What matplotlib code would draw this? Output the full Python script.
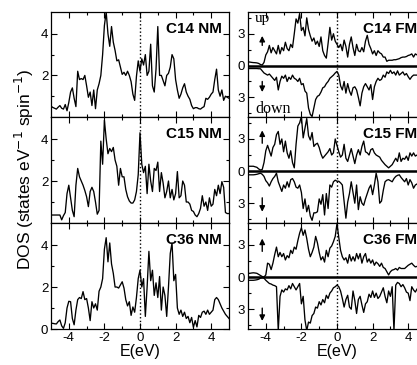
import numpy as np
import matplotlib.pyplot as plt
from matplotlib.ticker import FuncFormatter

plt.rcParams['font.family'] = ['Liberation Sans', 'DejaVu Sans']
plt.rcParams['axes.unicode_minus'] = False

# energy grid (eV), 0.1 eV step
energy = np.linspace(-5.0, 5.0, 101)

# non-magnetic DOS
c14_nm = [0.52, 0.46, 0.42, 0.38, 0.47, 0.55, 0.42, 0.38, 0.6, 0.3,
          0.7, 1.2, 1.4, 0.9, 0.5, 2.2, 1.8, 1.85, 1.8, 2.0,
          1.5, 0.95, 1.2, 0.55, 1.3, 0.4, 1.3, 1.6, 2.0, 3.0,
          4.4, 5.05, 4.0, 3.4, 4.35, 3.6, 3.2, 2.7, 2.75, 2.4,
          2.05, 2.15, 2.0, 2.2, 2.0, 1.7, 1.1, 0.8, 1.95, 2.7,
          2.2, 2.8, 2.5, 3.0, 2.0, 2.2, 3.5, 1.5, 1.2, 2.3,
          4.35, 2.0, 2.0, 1.75, 1.5, 2.0, 2.1, 2.4, 3.0, 2.8,
          1.8, 1.3, 0.9, 1.1, 1.4, 1.6, 1.2, 1.0, 0.85, 0.55,
          0.4, 0.45, 0.45, 0.4, 0.38, 0.45, 0.5, 0.9, 0.85, 0.95,
          1.1, 1.2, 1.8, 2.3, 1.3, 1.0, 1.3, 0.8, 1.0, 0.95, 0.9]
c15_nm = [0.38, 0.38, 0.38, 0.38, 0.38, 0.38, 0.15, 0.35, 0.5, 1.4,
          1.8, 1.2, 0.6, 0.3, 1.8, 2.6, 2.2, 2.0, 1.8, 1.55,
          1.25, 0.78, 1.5, 1.7, 1.5, 1.0, 0.42, 0.6, 3.9, 2.8,
          4.9, 4.0, 3.3, 3.55, 3.4, 3.6, 3.0, 2.7, 1.8, 2.6,
          2.2, 2.2, 1.6, 1.25, 1.05, 0.95, 0.95, 1.1, 1.5, 2.3,
          4.3, 2.8, 2.4, 2.7, 1.4, 2.8, 2.0, 1.5, 2.6, 2.5,
          2.9, 1.5, 2.4, 1.9, 1.2, 1.5, 2.0, 1.2, 1.6, 1.1,
          1.4, 2.45, 1.2, 1.3, 2.0, 1.8, 1.0, 1.0, 0.9, 0.6,
          0.55, 0.38, 0.3, 0.45, 0.7, 1.3, 0.8, 1.0, 0.6, 1.2,
          0.8, 0.9, 1.6, 1.3, 1.8, 1.4, 1.97, 1.7, 0.5, 0.45, 0.45]
c36_nm = [0.27, 0.27, 0.25, 0.24, 0.35, 0.43, 0.15, 0.03, 0.3, 1.0,
          1.32, 1.3, 0.5, 0.2, 0.9, 1.4, 1.5, 1.45, 1.78, 1.4,
          1.45, 1.0, 0.4, 1.3, 1.0, 1.2, 0.9, 1.8, 2.0, 2.4,
          3.8, 4.35, 3.2, 4.1, 3.1, 2.65, 2.0, 2.0, 1.95, 2.1,
          2.25, 1.95, 1.4, 1.1, 1.3, 0.65, 1.05, 0.8, 1.5, 2.4,
          2.8, 2.0, 2.4, 0.6, 2.0, 3.7, 2.3, 2.8, 1.6, 2.2,
          1.5, 2.5, 0.9, 2.0, 1.6, 0.6, 2.0, 3.6, 4.1, 2.3,
          2.6, 1.0, 0.7, 0.9, 0.6, 0.8, 0.5, 0.6, 0.3, 0.55,
          0.08, 0.4, 0.1, 0.65, 0.55, 0.8, 0.85, 0.7, 0.9, 0.7,
          0.8, 0.9, 1.4, 1.5, 1.4, 1.2, 1.0, 0.85, 0.7, 0.6, 0.5]

# ferromagnetic DOS, spin up / spin down (magnitudes)
c14_up = [0.35, 0.33, 0.3, 0.28, 0.27, 0.25, 0.2, 0.1, 0.05, 0.3,
          1.0, 1.3, 1.9, 1.2, 1.7, 1.4, 1.1, 1.9, 1.1, 1.7,
          1.4, 2.2, 1.6, 1.4, 2.0, 1.7, 3.0, 4.4, 4.0, 4.9,
          3.3, 3.6, 2.8, 4.5, 3.4, 2.8, 2.3, 2.6, 2.0, 2.3,
          1.8, 2.7, 1.4, 0.95, 0.7, 2.1, 3.6, 2.4, 3.0, 2.3,
          2.0, 1.7, 2.0, 1.4, 2.4, 1.8, 0.8, 2.0, 2.7, 1.7,
          0.95, 2.0, 1.4, 1.3, 1.7, 1.3, 2.3, 2.85, 2.0, 1.6,
          1.1, 1.4, 0.95, 1.4, 1.2, 1.1, 0.8, 0.8, 0.4, 0.5,
          0.5, 0.5, 0.55, 0.55, 0.6, 0.65, 0.75, 0.8, 0.8, 0.85,
          0.95, 1.0, 1.1, 0.8, 1.1, 1.0, 1.1, 0.9, 1.0, 1.1, 1.0]
c14_down = [0.28, 0.28, 0.28, 0.28, 0.28, 0.28, 0.3, 0.3, 0.5, 0.7,
            0.8, 0.9, 0.8, 1.0, 1.2, 1.4, 1.1, 2.3, 1.5, 1.0,
            1.2, 0.9, 1.5, 1.1, 1.3, 0.9, 1.2, 1.3, 1.5, 1.2,
            1.8, 1.7, 2.4, 2.6, 4.0, 4.6, 4.8, 4.0, 3.2, 2.9,
            2.8, 2.5, 2.1, 2.0, 1.7, 1.5, 1.2, 1.05, 0.9, 0.7,
            0.55, 0.9, 1.9, 2.3, 1.5, 2.6, 1.7, 2.4, 2.8, 2.1,
            2.0, 2.3, 3.0, 3.8, 2.6, 2.0, 1.7, 2.0, 2.3, 1.8,
            3.2, 2.0, 1.5, 1.2, 1.4, 1.3, 0.9, 1.1, 0.6, 0.75,
            0.45, 0.75, 0.6, 0.9, 0.5, 0.9, 0.75, 0.6, 0.9, 0.75,
            1.05, 1.3, 1.05, 0.9, 0.9, 0.9, 1.0, 0.8, 0.9, 1.0, 0.9]
c15_up = [0.45, 0.45, 0.45, 0.45, 0.4, 0.35, 0.2, 0.1, 0.15, 0.8,
          1.9, 2.4, 1.9, 1.4, 2.2, 2.5, 3.4, 3.7, 2.5, 3.0,
          1.8, 2.8, 1.7, 1.2, 1.9, 0.8, 0.3, 2.5, 4.2, 4.5,
          5.1, 3.1, 4.0, 4.9, 3.3, 2.9, 3.6, 2.3, 2.5, 2.6,
          2.2, 1.6, 1.2, 1.4, 1.6, 1.8, 2.1, 1.5, 1.7, 3.0,
          2.4, 1.8, 1.3, 1.5, 2.5, 1.2, 0.9, 1.5, 2.1, 1.4,
          0.7, 1.5, 2.0, 1.5, 2.3, 2.8, 1.8, 1.7, 1.5, 2.0,
          2.1, 1.7, 1.5, 1.4, 1.3, 1.0, 0.8, 0.6, 0.45, 0.3,
          0.45, 0.6, 0.9, 1.2, 0.9, 1.7, 0.9, 1.2, 1.1, 1.4,
          1.0, 1.7, 1.4, 1.7, 1.4, 1.5, 1.3, 1.6, 1.4, 1.5, 1.4]
c15_down = [0.35, 0.35, 0.35, 0.35, 0.33, 0.3, 0.25, 0.2, 0.3, 0.5,
            0.9, 1.1, 1.4, 1.0, 0.7, 0.5, 0.2, 1.0, 1.45, 1.9,
            1.3, 1.6, 1.0, 1.5, 0.8, 0.7, 1.0, 1.5, 1.6, 1.3,
            2.0, 3.5, 2.6, 3.8, 3.2, 4.2, 4.6, 3.9, 3.9, 3.8,
            2.6, 3.1, 2.2, 4.1, 2.1, 3.5, 1.3, 1.5, 1.0, 0.85,
            0.95, 0.95, 1.1, 1.3, 2.85, 4.4, 2.9, 2.1, 1.0, 2.0,
            3.0, 1.3, 3.6, 2.4, 3.0, 3.2, 2.6, 2.1, 1.6, 1.3,
            2.2, 1.3, 0.2, 1.0, 3.0, 2.8, 1.8, 1.0, 0.85, 0.8,
            0.9, 1.0, 0.7, 0.5, 0.4, 0.35, 0.6, 0.8, 1.0, 0.7,
            1.3, 0.8, 1.1, 1.6, 1.3, 1.2, 1.1, 1.3, 1.2, 1.1, 1.2]
c36_up = [0.35, 0.35, 0.38, 0.4, 0.38, 0.35, 0.25, 0.15, 0.05, 0.0,
          0.2, 1.3, 1.2, 0.7, 1.3, 2.1, 2.8, 1.9, 2.3, 1.9,
          2.2, 1.6, 2.0, 1.8, 2.5, 2.2, 2.8, 2.6, 3.4, 4.1,
          4.6, 3.9, 4.4, 3.6, 2.6, 1.9, 2.3, 2.8, 3.8, 3.2,
          2.3, 1.6, 1.9, 1.4, 2.5, 1.9, 2.7, 2.9, 3.3, 3.8,
          5.0, 3.7, 2.5, 1.9, 1.6, 1.8, 1.3, 2.1, 1.5, 1.9,
          1.5, 2.2, 1.7, 2.2, 1.3, 1.9, 2.2, 1.4, 1.7, 1.3,
          1.6, 1.1, 1.4, 1.25, 1.0, 1.3, 0.9, 0.8, 0.5, 0.2,
          0.5, 0.65, 0.7, 0.8, 0.65, 0.9, 0.8, 0.8, 0.8, 0.95,
          1.1, 1.2, 1.3, 1.1, 0.95, 1.0, 1.1, 1.0, 1.1, 1.0, 1.0]
c36_down = [0.3, 0.3, 0.3, 0.3, 0.28, 0.25, 0.2, 0.1, 0.05, 0.1,
            0.3, 0.45, 0.6, 0.65, 0.75, 0.8, 0.9, 5.0, 1.8, 1.2,
            1.4, 1.1, 1.2, 0.8, 1.1, 0.6, 0.9, 1.2, 0.9, 0.6,
            2.5, 1.8, 4.0, 5.0, 4.2, 4.3, 3.6, 3.4, 2.8, 2.9,
            2.3, 2.6, 2.1, 2.4, 1.7, 2.0, 1.5, 1.3, 1.0, 0.9,
            0.75, 0.9, 1.3, 2.0, 2.8, 2.1, 1.7, 2.8, 3.0, 1.3,
            2.2, 3.4, 2.1, 1.8, 2.6, 3.3, 2.5, 2.3, 1.6, 1.9,
            1.3, 1.9, 1.5, 2.0, 1.8, 1.4, 1.0, 1.8, 2.4, 1.3,
            1.8, 0.9, 5.0, 0.75, 0.5, 0.6, 0.9, 0.7, 1.0, 1.4,
            1.5, 2.2, 0.9, 1.2, 1.4, 1.1, 1.3, 1.2, 1.0, 1.2, 1.1]

nm_labels = ['C14 NM', 'C15 NM', 'C36 NM']
fm_labels = ['C14 FM', 'C15 FM', 'C36 FM']
nm_dos = [c14_nm, c15_nm, c36_nm]
fm_up = [c14_up, c15_up, c36_up]
fm_down = [c14_down, c15_down, c36_down]

W, H = 417, 365
fig = plt.figure(figsize=(W / 100, H / 100), dpi=100)


def px_axes(x0, y0, w, h):
    return fig.add_axes([x0 / W, 1 - (y0 + h) / H, w / W, h / H])


def style(ax, bottom):
    ax.set_xlim(-5, 5)
    ax.set_xticks([-4, -2, 0, 2, 4])
    ax.set_xticks([-3, -1, 1, 3], minor=True)
    ax.tick_params(which='both', direction='in', top=True, right=True,
                   width=0.8, labelsize=9.5, pad=2)
    ax.tick_params(which='major', length=4)
    ax.tick_params(which='minor', length=2.5)
    for s in ax.spines.values():
        s.set_linewidth(0.9)
    if not bottom:
        ax.tick_params(labelbottom=False)
    else:
        ax.set_xlabel('E(eV)', fontsize=11.5, labelpad=0)
    ax.axvline(0, color='k', ls=':', lw=1.0)


rows = [(12, 105), (117, 106), (223, 106)]
up_arrows = [(1.9, 2.8), (2.6, 3.8), (2.4, 3.6)]
down_arrows = [(-1.5, -2.5), (-2.5, -3.8), (-2.9, -4.1)]

for k, (y0, h) in enumerate(rows):
    last = k == 2
    # left: non magnetic
    ax = px_axes(51, y0, 178, h)
    ax.plot(energy, nm_dos[k], color='k', lw=0.95)
    ax.set_ylim(0, 5.05)
    ax.set_yticks([0, 2, 4] if last else [2, 4])
    ax.set_yticks([1, 3], minor=True)
    style(ax, last)
    ax.text(0.96, 0.84, nm_labels[k], transform=ax.transAxes, ha='right',
            va='center', fontsize=11, fontweight='bold')

    # right: ferromagnetic (axes runs past the right edge of the figure)
    ax = px_axes(248, y0, 178, h)
    ax.plot(energy, fm_up[k], color='k', lw=0.95)
    ax.plot(energy, -np.array(fm_down[k]), color='k', lw=0.95)
    ax.axhline(0, color='k', lw=1.8)
    ax.set_ylim(-4.85, 5.05)
    ax.set_yticks([-3, 0, 3])
    ax.set_yticks([-4.5, -1.5, 1.5, 4.5], minor=True)
    ax.yaxis.set_major_formatter(FuncFormatter(lambda v, p: '%d' % abs(v)))
    style(ax, last)
    ax.text(0.645, 0.84, fm_labels[k], transform=ax.transAxes, ha='left',
            va='center', fontsize=11, fontweight='bold')
    arrow = dict(arrowstyle='-|>', color='k', lw=1.0, mutation_scale=8,
                 shrinkA=0, shrinkB=0)
    ax.annotate('', xy=(-4.2, up_arrows[k][1]), xytext=(-4.2, up_arrows[k][0]),
                arrowprops=arrow)
    ax.annotate('', xy=(-4.2, down_arrows[k][1]),
                xytext=(-4.2, down_arrows[k][0]), arrowprops=arrow)
    if k == 0:
        ax.text(-4.6, 4.4, 'up', family='Liberation Serif', fontsize=11,
                va='center', ha='left')
        ax.text(-4.6, -4.1, 'down', family='Liberation Serif', fontsize=11.5,
                va='center', ha='left')

fig.text(0.058, 0.535, 'DOS (states eV$^{-1}$ spin$^{-1}$)', rotation=90,
         ha='center', va='center', fontsize=12.5)

fig.savefig('out.png', dpi=100)
